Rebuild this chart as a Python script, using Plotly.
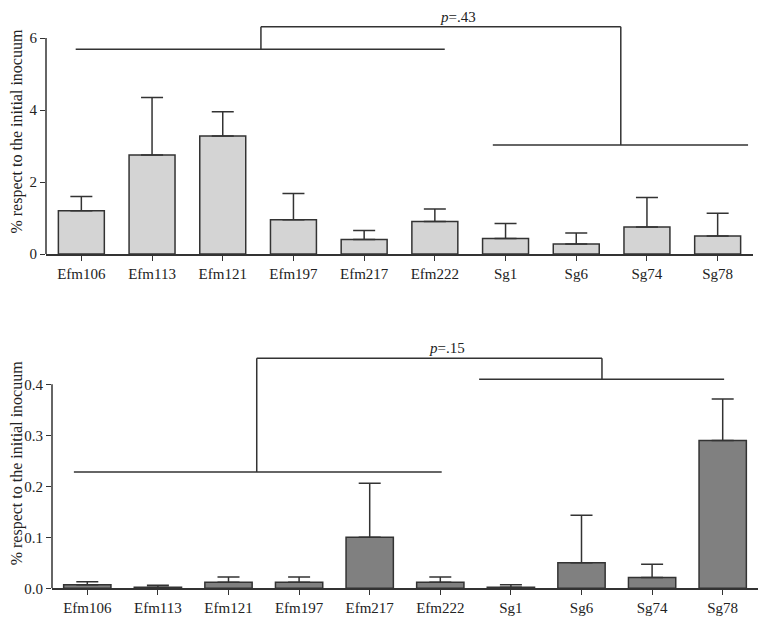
import plotly.graph_objects as go

strains = ["Efm106", "Efm113", "Efm121", "Efm197", "Efm217", "Efm222", "Sg1", "Sg6", "Sg74", "Sg78"]

# top panel: mean and upper error (SD)
top_mean = [1.20, 2.75, 3.28, 0.95, 0.40, 0.90, 0.43, 0.28, 0.75, 0.50]
top_err = [0.40, 1.60, 0.67, 0.73, 0.25, 0.35, 0.42, 0.30, 0.82, 0.63]

# bottom panel
bot_mean = [0.007, 0.002, 0.012, 0.012, 0.100, 0.012, 0.002, 0.050, 0.021, 0.290]
bot_err = [0.006, 0.004, 0.010, 0.010, 0.106, 0.010, 0.005, 0.093, 0.026, 0.081]

top_p = "<i>p</i>=.43"
bot_p = "<i>p</i>=.15"

# bracket geometry in data units (category index, value)
top_left_group = dict(x0=-0.08, x1=5.14, y=5.69)
top_right_group = dict(x0=5.82, x1=9.43, y=3.03)
top_join = dict(x0=2.54, x1=7.63, y=6.31)
bot_left_group = dict(x0=-0.19, x1=5.02, y=0.228)
bot_right_group = dict(x0=5.55, x1=9.02, y=0.41)
bot_join = dict(x0=2.40, x1=7.29, y=0.451)

OFF = 8  # page body margin
W, H = 766 - OFF, 617 - OFF
FONT = "Liberation Serif"
LINE = "#333333"

fig = go.Figure()
fig.add_trace(go.Bar(
    x=strains, y=top_mean, xaxis="x", yaxis="y", width=0.65,
    marker=dict(color="#d4d4d4", line=dict(color=LINE, width=1.5)),
    error_y=dict(type="data", symmetric=False, array=top_err, arrayminus=[0] * len(top_err),
                 color=LINE, thickness=1.5, width=11),
    showlegend=False))
fig.add_trace(go.Bar(
    x=strains, y=bot_mean, xaxis="x2", yaxis="y2", width=0.67,
    marker=dict(color="#808080", line=dict(color=LINE, width=1.5)),
    error_y=dict(type="data", symmetric=False, array=bot_err, arrayminus=[0] * len(bot_err),
                 color=LINE, thickness=1.5, width=11),
    showlegend=False))

def px(p):
    return (p - OFF) / W

def py(p):
    return (H - (p - OFF)) / H

top_range = [0, 6.8]
bot_range = [0, 0.49]

ax_common = dict(showgrid=False, zeroline=False, ticks="outside", ticklen=5, tickwidth=1.2,
                 automargin=False,
                 tickcolor=LINE, tickfont=dict(family=FONT, size=15, color="#222"))

fig.update_layout(
    width=W, height=H, margin=dict(l=0, r=0, t=0, b=0, autoexpand=False),
    paper_bgcolor="white", plot_bgcolor="white", bargap=0.3,
    font=dict(family=FONT, color="#222"),
    xaxis=dict(domain=[px(46), px(753)], anchor="y", showline=True, linecolor=LINE, linewidth=1.5,
               range=[-0.5, 9.5], **ax_common),
    yaxis=dict(domain=[py(254), py(254 - top_range[1] * 36)], anchor="x", range=top_range,
               tickvals=[0, 2, 4, 6], showline=False,
               title=dict(text="% respect to the initial inocuum", font=dict(family=FONT, size=16),
                          standoff=6),
               **ax_common),
    xaxis2=dict(domain=[px(52), px(758)], anchor="y2", showline=True, linecolor=LINE, linewidth=1.5,
                range=[-0.5, 9.5], **ax_common),
    yaxis2=dict(domain=[py(588.3), py(588.3 - bot_range[1] * 510)], anchor="x2", range=bot_range,
                tickvals=[0, 0.1, 0.2, 0.3, 0.4], tickformat=".1f", showline=False,
                title=dict(text="% respect to the initial inocuum", font=dict(family=FONT, size=16),
                           standoff=6),
                **ax_common),
)

shapes = []
# y axis lines only up to last tick
shapes.append(dict(type="line", xref="x domain", yref="y", x0=0, x1=0, y0=0, y1=6,
                   line=dict(color=LINE, width=1.5)))
shapes.append(dict(type="line", xref="x2 domain", yref="y2", x0=0, x1=0, y0=0, y1=0.4,
                   line=dict(color=LINE, width=1.5)))

def bracket(xr, yr, left, right, join):
    out = []
    for g in (left, right):
        out.append(dict(type="line", xref=xr, yref=yr, x0=g["x0"], x1=g["x1"], y0=g["y"], y1=g["y"],
                        line=dict(color=LINE, width=1.5)))
    out.append(dict(type="line", xref=xr, yref=yr, x0=join["x0"], x1=join["x1"], y0=join["y"], y1=join["y"],
                    line=dict(color=LINE, width=1.5)))
    out.append(dict(type="line", xref=xr, yref=yr, x0=join["x0"], x1=join["x0"], y0=left["y"], y1=join["y"],
                    line=dict(color=LINE, width=1.5)))
    out.append(dict(type="line", xref=xr, yref=yr, x0=join["x1"], x1=join["x1"], y0=right["y"], y1=join["y"],
                    line=dict(color=LINE, width=1.5)))
    return out

shapes += bracket("x", "y", top_left_group, top_right_group, top_join)
shapes += bracket("x2", "y2", bot_left_group, bot_right_group, bot_join)
fig.update_layout(shapes=shapes)

fig.add_annotation(xref="x", yref="y", x=5.33, y=6.31, text=top_p, showarrow=False,
                   yanchor="bottom", yshift=1, borderpad=0,
                   font=dict(family=FONT, size=15, color="#222"))
fig.add_annotation(xref="x2", yref="y2", x=5.1, y=0.451, text=bot_p, showarrow=False,
                   yanchor="bottom", yshift=1, borderpad=0,
                   font=dict(family=FONT, size=15, color="#222"))

fig.write_html("out.html")
